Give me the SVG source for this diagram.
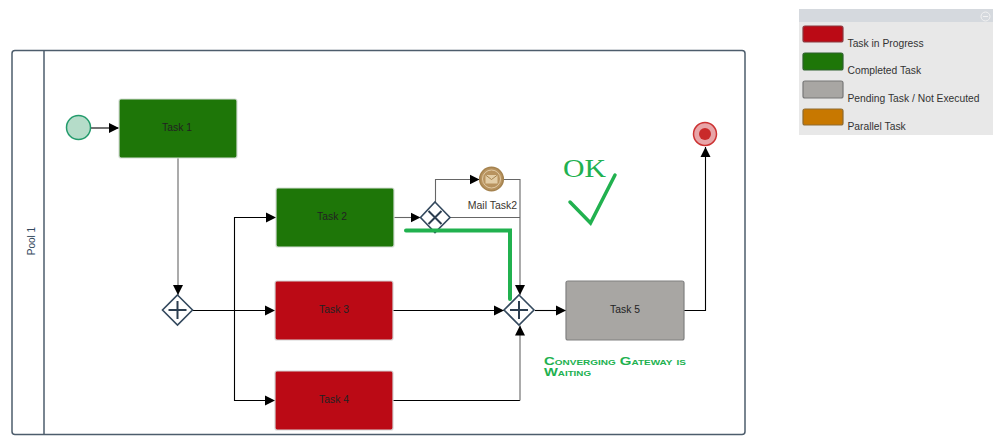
<svg xmlns="http://www.w3.org/2000/svg" width="1000" height="442" viewBox="0 0 1000 442">
<style>
text{font-family:"Liberation Sans",Arial,sans-serif;font-size:10px}
.t{text-anchor:middle;fill:#222;font-size:10.300px}
.task{stroke-width:1.200}
.red{fill:#bb0a15;stroke:#d4d4d4}
.green{fill:#1e7608;stroke:#d4ddd4}
.gray{fill:#a8a6a3;stroke:#808080}
.gw{fill:#fff;stroke:#34495e;stroke-width:1.600}
.gm{fill:none;stroke:#2c3e50;stroke-width:2}
.k{fill:none;stroke:#000;stroke-width:1.100}
.g{fill:none;stroke:#666;stroke-width:1.100}
.ann{fill:none;stroke:#21b14f;stroke-linecap:round;stroke-linejoin:miter}
.leg{stroke-width:1.200}
.lt{fill:#333;font-size:10.300px}
</style>
<defs>
<marker id="a" markerUnits="userSpaceOnUse" markerWidth="11" markerHeight="11" refX="10" refY="5.500" orient="auto"><path d="M0,0.500L10,5.500L0,10.500Z" fill="#000"/></marker>
</defs>

<g id="legend">
<rect x="799" y="9" width="194" height="126" fill="#e8e8e8"/>
<rect x="799" y="9" width="194" height="13" fill="#d5d9de"/>
<circle cx="985.500" cy="16.500" r="4.500" fill="none" stroke="#f2f2f2"/>
<path d="M983,16.500h5" stroke="#f2f2f2"/>
<rect class="leg" x="803" y="26" width="40" height="16" rx="2" fill="#bb0a15" stroke="#8a3a40"/>
<rect class="leg" x="803" y="53" width="40" height="17" rx="2" fill="#1e7608" stroke="#2c602c"/>
<rect class="leg" x="803" y="81" width="40" height="17" rx="2" fill="#a8a6a3" stroke="#777"/>
<rect class="leg" x="803" y="109" width="40" height="16" rx="2" fill="#c87800" stroke="#8d6a30"/>
<text class="lt" x="847.500" y="46.500">Task in Progress</text>
<text class="lt" x="847.500" y="74">Completed Task</text>
<text class="lt" x="847.500" y="102">Pending Task / Not Executed</text>
<text class="lt" x="847.500" y="129.500">Parallel Task</text>
</g>

<g id="pool">
<rect x="12" y="50.500" width="733" height="384" rx="3" fill="#fff" stroke="#4d5d6c" stroke-width="1.500"/>
<path d="M44,50.500V434.500" stroke="#4d5d6c" stroke-width="1.500"/>
<text transform="translate(34.500,241) rotate(-90)" text-anchor="middle" fill="#34495e">Pool 1</text>
</g>

<g id="connectors">
<path class="k" d="M91,128H119" marker-end="url(#a)"/>
<path class="g" d="M178,158V295" marker-end="url(#a)"/>
<path class="k" d="M192,310.500H275" marker-end="url(#a)"/>
<path class="k" d="M234.500,310.500V217.500H276" marker-end="url(#a)"/>
<path class="k" d="M234.500,310.500V400.500H275" marker-end="url(#a)"/>
<path class="g" d="M394,217.500H420.500" marker-end="url(#a)"/>
<path class="g" d="M435.500,202V179.500H479.500" marker-end="url(#a)"/>
<path class="g" d="M450,217.500H520"/>
<path class="g" d="M503,179.500H520V295" marker-end="url(#a)"/>
<path class="k" d="M393,310.500H504" marker-end="url(#a)"/>
<path class="k" d="M393,400.500H520"/>
<path class="g" d="M520,400.500V325.500" marker-end="url(#a)"/>
<path class="k" d="M535,310.500H566" marker-end="url(#a)"/>
<path class="k" d="M684,310.500H705.500V147" marker-end="url(#a)"/>
</g>

<g id="start"><circle cx="78.500" cy="127.500" r="12" fill="#b5dcc9" stroke="#239b6c" stroke-width="1.500"/></g>
<g id="task1"><rect class="task green" x="119" y="99" width="118" height="59" rx="2"/><text class="t" x="177" y="130.500">Task 1</text></g>
<g id="task2"><rect class="task green" x="276" y="188" width="118" height="59" rx="2"/><text class="t" x="332" y="219.500">Task 2</text></g>
<g id="task3"><rect class="task red" x="275" y="281" width="118" height="59" rx="2"/><text class="t" x="334" y="313">Task 3</text></g>
<g id="task4"><rect class="task red" x="275" y="371" width="118" height="59" rx="2"/><text class="t" x="334" y="403">Task 4</text></g>
<g id="task5"><rect class="task gray" x="566" y="281" width="118" height="59" rx="2"/><text class="t" x="625" y="312.500">Task 5</text></g>

<g id="gateway1"><path class="gw" d="M177.500,295L192.500,310L177.500,325L162.500,310Z"/><path class="gm" d="M177.500,301V319M168.500,310H186.500"/></g>
<g id="gateway2"><path class="gw" d="M435,202L450,217.500L435,232.500L420.500,217.500Z"/><path class="gm" d="M428.500,211L441.500,224M441.500,211L428.500,224"/></g>
<g id="gateway3"><path class="gw" d="M519,295L534,310L519,325L504,310Z"/><path class="gm" d="M519,301V319M510,310H528"/></g>

<g id="mail">
<circle cx="491.500" cy="179" r="11.800" fill="#b8935f" stroke="#a5834f" stroke-width="1.500"/>
<circle cx="491.500" cy="179" r="9" fill="none" stroke="#e0c9a3" stroke-width="1"/>
<rect x="485.500" y="175" width="12" height="8.500" fill="#e3cda6"/>
<path d="M485.500,175L491.500,179.500L497.500,175" fill="none" stroke="#a5834f"/>
<text x="492.500" y="208.500" text-anchor="middle" fill="#3b3630" style="font-size:10.500px">Mail Task2</text>
</g>
<g id="end">
<circle cx="705" cy="134" r="11.500" fill="#e8a5a8" stroke="#cc3333" stroke-width="1.500"/>
<circle cx="705" cy="134" r="6" fill="#c92a2a"/>
</g>

<g id="annotations">
<path class="ann" stroke-width="4" d="M406,230.500H510V299"/>
<path class="ann" stroke-width="3.500" stroke-linejoin="round" d="M570,202L590.500,223L615,175"/>
<text x="563" y="176.500" style="font-family:'Liberation Serif',serif;font-size:25px" textLength="43" lengthAdjust="spacingAndGlyphs" fill="#21b14f">OK</text>
<text x="544" y="365" style="font-weight:bold;font-variant:small-caps;font-size:10.500px" textLength="142" lengthAdjust="spacingAndGlyphs" fill="#21b14f">Converging Gateway is</text>
<text x="544" y="376" style="font-weight:bold;font-variant:small-caps;font-size:10.500px" textLength="47" lengthAdjust="spacingAndGlyphs" fill="#21b14f">Waiting</text>
</g>
</svg>
